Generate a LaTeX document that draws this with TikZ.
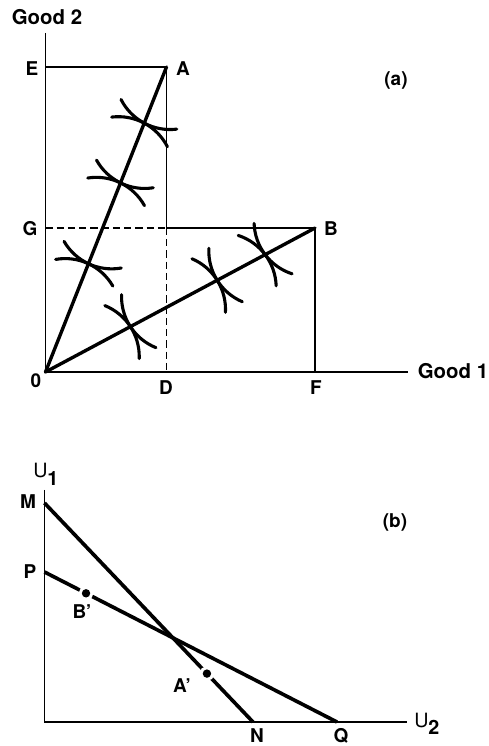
\documentclass[tikz,border=0pt]{standalone}
\usepackage{fontspec}
\setmainfont{TeX Gyre Heros}
\usetikzlibrary{calc}

% two indifference curves touching on a ray
\newcommand{\tradecross}[2]{%
  \begin{scope}[shift={(#1)}, rotate=#2]
    \draw[icurve] (-0.789cm,0.249cm) arc[start angle=-125, end angle=-55, radius=1.375cm];
    \draw[icurve] (-0.789cm,-0.249cm) arc[start angle=125, end angle=55, radius=1.375cm];
  \end{scope}}

\begin{document}
\begin{tikzpicture}[
  x=0.025cm,
  y=0.025cm,
  every node/.style={inner sep=0pt},
  lab/.style={font=\bfseries\fontsize{13.5}{15}\selectfont},
  axislab/.style={font=\bfseries\fontsize{14.5}{16}\selectfont},
  ulab/.style={font=\fontsize{14}{16}\selectfont},
  axis/.style={line width=1.2pt},
  box/.style={line width=1pt},
  guide/.style={line width=1.1pt, dash pattern=on 5pt off 3pt},
  ray/.style={line width=2.4pt, line cap=round},
  icurve/.style={line width=2.2pt, line cap=round},
  frontier/.style={line width=2.6pt},
  gapdot/.style={circle, fill=black, minimum size=0.21cm,
    preaction={draw=white, line width=0.15cm}}
]
  % ---- bounding box ----------------------------------------------------
  \path (0,0) rectangle (488,746);

  % ---- panel (a): points -----------------------------------------------
  \coordinate (O) at (45.5,374);
  \coordinate (Ytop) at (45.5,713);
  \coordinate (Xend) at (408,374);
  \coordinate (E) at (45.5,679);
  \coordinate (A) at (166.5,679);
  \coordinate (G) at (45.5,518);
  \coordinate (Gd) at (166.5,518);
  \coordinate (B) at (315,518);
  \coordinate (D) at (166.5,374);
  \coordinate (F) at (315,374);

  % ---- panel (a): axes and boxes ---------------------------------------
  \draw[axis] (Ytop) -- (O) -- (Xend);
  \draw[box] (E) -- (A) -- (Gd);
  \draw[guide] (Gd) -- (D);
  \draw[guide] (G) -- (Gd);
  \draw[box] (Gd) -- (B) -- (F);

  % ---- panel (a): rays -------------------------------------------------
  \draw[ray] (O) -- (A);
  \draw[ray] (O) -- (B);

  % ---- panel (a): tangencies -------------------------------------------
  \coordinate (c1) at ($(O)!0.816!(A)$);
  \coordinate (c2) at ($(O)!0.620!(A)$);
  \coordinate (c3) at ($(O)!0.355!(A)$);
  \coordinate (c4) at ($(O)!0.315!(B)$);
  \coordinate (c5) at ($(O)!0.637!(B)$);
  \coordinate (c6) at ($(O)!0.815!(B)$);
  \tradecross{c1}{-28}
  \tradecross{c2}{-26}
  \tradecross{c3}{-25}
  \tradecross{c4}{-57}
  \tradecross{c5}{-58}
  \tradecross{c6}{-53}

  % ---- panel (a): labels -----------------------------------------------
  \node[axislab] (good2) at (47,728.5) {Good 2};
  \node[axislab] (good1) at (453,374.5) {Good 1};
  \node[lab] (labE) at (32,677) {E};
  \node[lab] (labA) at (183,677) {A};
  \node[lab] (labG) at (30,517) {G};
  \node[lab] (labB) at (331,517) {B};
  \node[lab] (lab0) at (36,365) {0};
  \node[lab] (labD) at (166,358) {D};
  \node[lab] (labF) at (316,358) {F};
  \node[lab] (panela) at (396,666) {(a)};

  % ---- panel (b): points -----------------------------------------------
  \coordinate (O2) at (44.5,24);
  \coordinate (U1top) at (44.5,256);
  \coordinate (U2end) at (407,24);
  \coordinate (M) at (44.5,243);
  \coordinate (P) at (44.5,174);
  \coordinate (N) at (253,24);
  \coordinate (Q) at (337,24);

  % ---- panel (b): axes and frontiers -----------------------------------
  \draw[axis] (U1top) -- (O2) -- (U2end);
  \draw[frontier] (M) -- (N);
  \draw[frontier] (P) -- (Q);
  \node[gapdot] (Bp) at ($(P)!0.142!(Q)$) {};
  \node[gapdot] (Ap) at ($(M)!0.779!(N)$) {};

  % ---- panel (b): labels -----------------------------------------------
  \node[ulab, anchor=base west] (u1) at (33,268) {U\raisebox{-5pt}{\bfseries 1}};
  \node[ulab, anchor=base west] (u2) at (414,19) {U\raisebox{-5pt}{\bfseries 2}};
  \node[lab] (labM) at (28,244) {M};
  \node[lab] (labP) at (30,174) {P};
  \node[lab] (labN) at (257,10) {N};
  \node[lab] (labQ) at (341,10) {Q};
  \node[lab] (labBp) at (82,134) {B'};
  \node[lab] (labAp) at (182,60) {A'};
  \node[lab] (panelb) at (395,224) {(b)};
\end{tikzpicture}
\end{document}
